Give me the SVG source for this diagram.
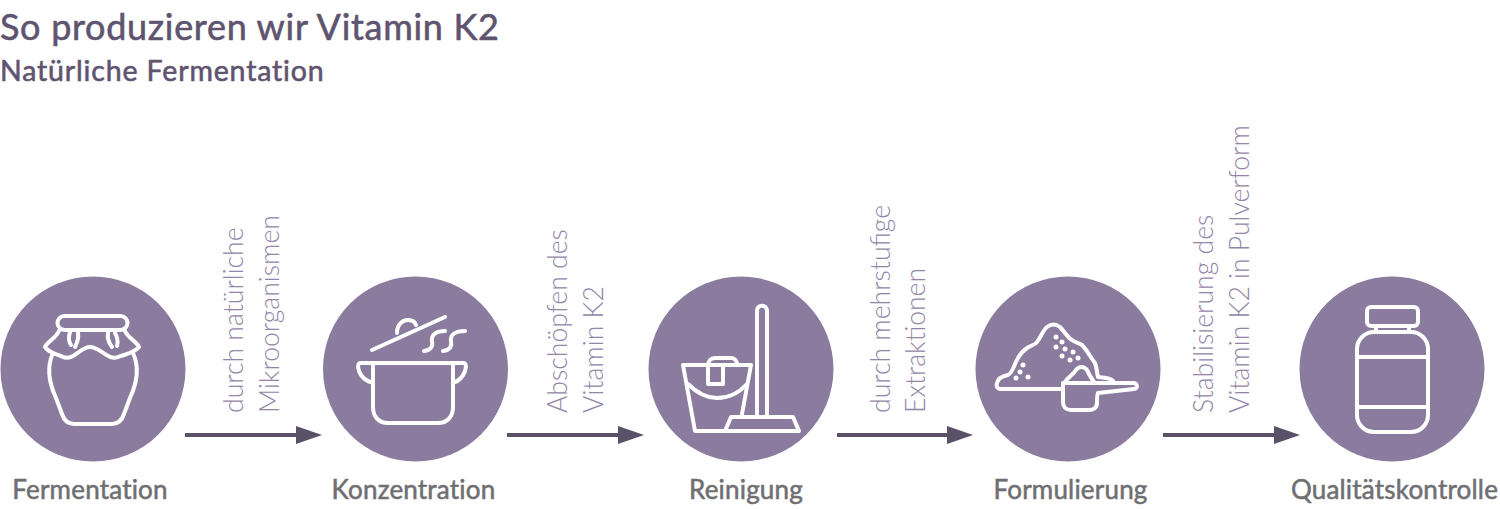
<svg xmlns="http://www.w3.org/2000/svg" width="1500" height="509" viewBox="0 0 1500 509">
<style>
.c{fill:#8b7c9f}
.i{fill:none;stroke:#fff;stroke-width:4;stroke-linecap:round;stroke-linejoin:round}
.d{fill:#fff}
.l{font-family:"Lato","Liberation Sans",sans-serif;font-weight:400;font-size:26px;letter-spacing:.2px;fill:#6f6f72;stroke:#6f6f72;stroke-width:.55px;text-anchor:middle}
.v{font-family:"Lato","Liberation Sans",sans-serif;font-weight:300;font-size:26.6px;fill:#9386a8}
.t{font-family:"Lato","Liberation Sans",sans-serif;font-weight:400;fill:#5f5470;stroke:#5f5470;stroke-width:.6px}
.a{stroke:#5a5068;stroke-width:4;fill:none}
.h{fill:#5a5068}
</style>
<text class="t" x="0" y="40" font-size="36" letter-spacing=".7">So produzieren wir Vitamin K2</text>
<text class="t" x="0" y="81" font-size="28.5" letter-spacing=".85">Natürliche Fermentation</text>
<g id="connectors">
<path class="a" d="M185 435H300"/><path class="h" d="M296 426V444L322 435Z"/>
<path class="a" d="M507 435H622"/><path class="h" d="M618 426V444L644 435Z"/>
<path class="a" d="M837 435H952"/><path class="h" d="M947 426V444L973 435Z"/>
<path class="a" d="M1163 435H1278"/><path class="h" d="M1274 426V444L1300 435Z"/>
</g>
<g id="label-1"><text class="v" transform="translate(243 413) rotate(-90)">durch natürliche</text><text class="v" transform="translate(279 413) rotate(-90)">Mikroorganismen</text></g>
<g id="label-2"><text class="v" transform="translate(567 413) rotate(-90)">Abschöpfen des</text><text class="v" transform="translate(603 413) rotate(-90)">Vitamin K2</text></g>
<g id="label-3"><text class="v" transform="translate(890 413) rotate(-90)">durch mehrstufige</text><text class="v" transform="translate(925 413) rotate(-90)">Extraktionen</text></g>
<g id="label-4"><text class="v" transform="translate(1213 413) rotate(-90)">Stabilisierung des</text><text class="v" transform="translate(1249 413) rotate(-90)">Vitamin K2 in Pulverform</text></g>
<g id="node-fermentation">
<circle class="c" cx="93" cy="369" r="92.5"/>
<g class="i">
<rect x="57.500" y="316" width="70" height="14" rx="7"/>
<path d="M59 331C56 338 48 341 45 347C50 354 58 354 63 357C74 361 80 347 90 347C100 347 108 361 118 357C126 354 134 353 139 347C136 341 128 338 125 331"/>
<path d="M70 332C68 338 69 342 71 345M78 333C79 338 77 343 75 347M108 333C107 339 109 343 112 347M115 333C118 338 118 342 117 346"/>
<path d="M53 353C46 368 50 385 56 398L62 414C64 420 68 424 74 424H112C118 424 122 420 124 414L130 398C136 385 140 368 133 353"/>
</g>
<text class="l" x="90" y="499">Fermentation</text>
</g>
<g id="node-konzentration">
<circle class="c" cx="415.500" cy="369" r="92.500"/>
<g class="i">
<path d="M372 350L445 317"/>
<path d="M397 333C397 325 402 320 408 320C412 320 415 322 416 325"/>
<path d="M424 351C432 350 433 345 432 341C431 335 436 331 445 331M443 351C451 350 452 345 451 341C450 335 455 331 465 331"/>
<path d="M373 363H453M373 363H361C357 363 358 368 359 371C361 377 366 381 373 383M453 363H463C467 363 466 368 465 371C463 377 459 381 453 383"/>
<path d="M373 363V407C373 417 379 423 388 423H438C447 423 453 417 453 407V363"/>
</g>
<text class="l" x="413.500" y="499">Konzentration</text>
</g>
<g id="node-reinigung">
<circle class="c" cx="741" cy="369" r="92.500"/>
<g class="i">
<path d="M742 414L751 365H683L695 431H799L793 417H731L725 431"/>
<path d="M688 384C698 394 708 398 717 398C727 398 738 394 747 384"/>
<path d="M708 366C708 361 711 358 715 358H731C735 358 737 361 737 365M708 366V384H723V365"/>
<path d="M757 416V311C757 304 767 304 767 311V416"/>
</g>
<text class="l" x="746" y="499">Reinigung</text>
</g>
<g id="node-formulierung">
<circle class="c" cx="1068" cy="369" r="92.500"/>
<g class="i">
<path d="M1062 389H1001C997 389 996 386 997 383C998 378 1003 376 1008 375C1013 373 1014 364 1018 358C1021 353 1024 350 1027 348C1032 345 1035 345 1037 342C1041 337 1043 330 1047 327C1051 324 1056 324 1060 327C1064 331 1067 337 1072 340C1076 343 1079 343 1082 345C1087 350 1091 358 1095 363C1097 368 1097 374 1098 377C1102 378 1109 377 1113 381"/>
<path d="M1065 382C1068 377 1073 375 1076 370C1079 366 1084 366 1087 370C1089 374 1091 378 1094 382"/>
<path d="M1063 383H1133C1138 383 1138 389 1134 389L1098 393C1097 394 1097 398 1097 403C1097 408 1093 410 1089 410H1071C1066 410 1063 407 1063 402V383Z"/>
</g>
<g class="d">
<circle cx="1056" cy="337" r="2.500"/><circle cx="1062" cy="342" r="2.500"/><circle cx="1056" cy="347" r="2.500"/><circle cx="1065" cy="349" r="2.500"/><circle cx="1073" cy="352" r="2.500"/><circle cx="1062" cy="356" r="2.500"/><circle cx="1070" cy="360" r="2.500"/><circle cx="1078" cy="358" r="2.500"/><circle cx="1023" cy="365" r="2.500"/><circle cx="1020" cy="372" r="2.500"/><circle cx="1016" cy="378" r="2.500"/><circle cx="1028" cy="377" r="2.500"/>
</g>
<text class="l" x="1070.500" y="499">Formulierung</text>
</g>
<g id="node-qualitaetskontrolle">
<circle class="c" cx="1392" cy="369" r="92.500"/>
<g class="i">
<rect x="1367" y="307" width="51" height="19" rx="4"/>
<path d="M1376 327V332M1409 327V332"/>
<rect x="1357" y="332" width="71" height="100" rx="17"/>
<path d="M1358 357H1427M1358 407H1427"/>
</g>
<text class="l" x="1394.500" y="499">Qualitätskontrolle</text>
</g>
</svg>
